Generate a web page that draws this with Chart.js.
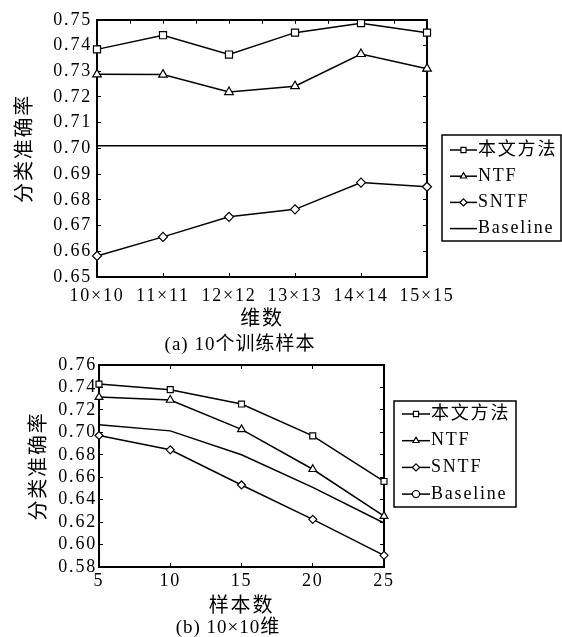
<!DOCTYPE html>
<html><head><meta charset="utf-8">
<script src="https://cdn.jsdelivr.net/npm/chart.js@4.4.0/dist/chart.umd.min.js"></script>
<style>
html,body{margin:0;padding:0;background:#fff;}
#wrap{position:relative;width:562px;height:637px;overflow:hidden;background:#fff;}
canvas{position:absolute;left:0;}
#ca{top:0;}
#cb{top:340px;}
</style></head><body>
<div id="wrap">
<canvas id="ca" width="562" height="356"></canvas>
<canvas id="cb" width="562" height="297"></canvas>
</div>
<script>
// ---------- data ----------
const seriesNames = ['本文方法', 'NTF', 'SNTF', 'Baseline'];

// (a) 10 training samples, varying dimension
const dimCategories = ['10×10', '11×11', '12×12', '13×13', '14×14', '15×15'];
const oursA = [0.7385, 0.7440, 0.7365, 0.7450, 0.7487, 0.7450];
const ntfA = [0.7288, 0.7287, 0.7219, 0.7242, 0.7367, 0.7310];
const sntfA = [0.6582, 0.6656, 0.6734, 0.6763, 0.6867, 0.6851];
const baselineA = [0.7010, 0.7010, 0.7010, 0.7010, 0.7010, 0.7010];
const yTicksA = [0.65, 0.66, 0.67, 0.68, 0.69, 0.70, 0.71, 0.72, 0.73, 0.74, 0.75];

// (b) 10x10 dimension, varying sample count
const sampleCounts = [5, 10, 15, 20, 25];
const oursB = [0.7430, 0.7380, 0.7252, 0.6968, 0.6562];
const ntfB = [0.7314, 0.7288, 0.7026, 0.6671, 0.6253];
const sntfB = [0.6972, 0.6844, 0.6531, 0.6225, 0.5904];
const baselineB = [0.7067, 0.7013, 0.6800, 0.6510, 0.6192];
const yTicksB = [0.58, 0.60, 0.62, 0.64, 0.66, 0.68, 0.70, 0.72, 0.74, 0.76];

// ---------- helpers ----------
const LATIN = "'Liberation Serif', 'Noto Sans CJK SC', serif";
const CJK = "'Noto Sans CJK SC', 'Liberation Serif', sans-serif";
const LS = '1.8px';

function drawMarker(ctx, style, x, y, r) {
  ctx.save();
  ctx.fillStyle = '#fff';
  ctx.strokeStyle = '#000';
  ctx.lineWidth = 1.2;
  ctx.beginPath();
  if (style === 'rect') {
    const s = r * Math.SQRT1_2;
    ctx.rect(x - s, y - s, 2 * s, 2 * s);
  } else if (style === 'triangle') {
    ctx.moveTo(x, y - r);
    ctx.lineTo(x + r * 0.866, y + r * 0.5);
    ctx.lineTo(x - r * 0.866, y + r * 0.5);
    ctx.closePath();
  } else if (style === 'rectRot') {
    ctx.moveTo(x - r, y); ctx.lineTo(x, y - r); ctx.lineTo(x + r, y); ctx.lineTo(x, y + r);
    ctx.closePath();
  } else if (style === 'circle') {
    ctx.arc(x, y, r, 0, Math.PI * 2);
  } else { ctx.restore(); return; }
  ctx.fill(); ctx.stroke();
  ctx.restore();
}

const spacingPlugin = {
  id: 'spacing',
  beforeUpdate(chart) { chart.ctx.letterSpacing = LS; },
  beforeLayout(chart) { chart.ctx.letterSpacing = LS; },
  beforeDraw(chart) { chart.ctx.letterSpacing = LS; }
};

const boxLegend = {
  id: 'boxLegend',
  afterDraw(chart, args, o) {
    const ctx = chart.ctx;
    ctx.save();
    ctx.letterSpacing = LS;
    ctx.strokeStyle = '#000';
    ctx.lineWidth = 1.5;
    ctx.strokeRect(o.x, o.y, o.w, o.h);
    ctx.font = o.font;
    ctx.fillStyle = '#000';
    ctx.textAlign = 'left';
    ctx.textBaseline = 'middle';
    chart.data.datasets.forEach((ds, i) => {
      const cy = o.y + o.firstRow + i * o.rowGap;
      ctx.beginPath();
      ctx.moveTo(o.x + o.lineX0, cy);
      ctx.lineTo(o.x + o.lineX1, cy);
      ctx.lineWidth = 1.5;
      ctx.stroke();
      drawMarker(ctx, ds.legendStyle, o.x + (o.lineX0 + o.lineX1) / 2, cy, o.markerR);
      ctx.fillText(ds.label, o.x + o.textX, cy);
    });
    ctx.restore();
  }
};

const captionPlugin = {
  id: 'caption',
  afterDraw(chart, args, o) {
    const ctx = chart.ctx;
    ctx.save();
    ctx.letterSpacing = '1px';
    ctx.font = o.font;
    ctx.fillStyle = '#000';
    ctx.textAlign = 'center';
    ctx.textBaseline = 'middle';
    ctx.fillText(o.text, o.x, o.y);
    ctx.restore();
  }
};

function ds(label, data, style, radius, legendStyle) {
  return {
    label, data,
    borderColor: '#000', borderWidth: 1.5,
    pointStyle: style, pointRadius: radius, pointHoverRadius: radius,
    pointBackgroundColor: '#fff', pointBorderColor: '#000', pointBorderWidth: 1.2,
    legendStyle: legendStyle || style,
    tension: 0, fill: false, clip: false
  };
}

const tickFont = { family: LATIN, size: 18 };
const titleFont = { family: CJK, size: 20, lineHeight: 1.2 };
const gridCommon = { drawOnChartArea: false, drawTicks: true, tickLength: -4, color: '#000', lineWidth: 1 };
const borderCommon = { display: true, color: '#000', width: 2 };

// ---------- chart (a) ----------
new Chart(document.getElementById('ca'), {
  type: 'line',
  data: {
    labels: dimCategories,
    datasets: [
      ds(seriesNames[0], oursA, 'rect', 5),
      ds(seriesNames[1], ntfA, 'triangle', 5),
      ds(seriesNames[2], sntfA, 'rectRot', 4.5),
      ds(seriesNames[3], baselineA, false, 0, 'none')
    ]
  },
  options: {
    responsive: false, animation: false, devicePixelRatio: 1,
    layout: { padding: { left: 0, top: 16, right: 135, bottom: 27 } },
    plugins: {
      legend: { display: false }, tooltip: { enabled: false },
      boxLegend: { x: 442, y: 135, w: 119, h: 106, firstRow: 15, rowGap: 26.2, lineX0: 8, lineX1: 35, textX: 36, markerR: 3.6, font: "18px " + LATIN },
      caption: { text: '(a) 10个训练样本', x: 240, y: 345, font: "19px " + LATIN }
    },
    scales: {
      x: {
        type: 'category', position: 'bottom', offset: false,
        grid: gridCommon, border: borderCommon,
        ticks: { font: tickFont, color: '#000', padding: 12, autoSkip: false, maxRotation: 0, minRotation: 0 },
        title: { display: true, text: '维数', font: titleFont, color: '#000', padding: 0 },
        afterFit: s => { s.height = 52; }
      },
      x2: {
        type: 'linear', position: 'top', min: 0, max: 5,
        grid: gridCommon, border: borderCommon,
        ticks: { display: false, stepSize: 0.5 },
        afterFit: s => { s.height = 0; }
      },
      y: {
        type: 'linear', position: 'left', min: 0.65, max: 0.75,
        grid: gridCommon, border: borderCommon,
        afterBuildTicks: s => { s.ticks = yTicksA.map(v => ({ value: v })); },
        ticks: { font: tickFont, color: '#000', padding: 9, autoSkip: false, callback: v => Number(v).toFixed(2) },
        title: { display: true, text: '分类准确率', font: titleFont, color: '#000', padding: { top: 11, bottom: 0 } },
        afterFit: s => { s.width = 97; }
      },
      y2: {
        type: 'linear', position: 'right', min: 0.65, max: 0.75,
        grid: gridCommon, border: borderCommon,
        afterBuildTicks: s => { s.ticks = yTicksA.map(v => ({ value: v })); },
        ticks: { display: false },
        afterFit: s => { s.width = 0; }
      }
    }
  },
  plugins: [spacingPlugin, boxLegend, captionPlugin]
});

// ---------- chart (b) ----------
const toPts = vals => sampleCounts.map((s, i) => ({ x: s, y: vals[i] }));
new Chart(document.getElementById('cb'), {
  type: 'line',
  data: {
    datasets: [
      ds(seriesNames[0], toPts(oursB), 'rect', 4.2),
      ds(seriesNames[1], toPts(ntfB), 'triangle', 4.5),
      ds(seriesNames[2], toPts(sntfB), 'rectRot', 4),
      ds(seriesNames[3], toPts(baselineB), false, 0, 'circle')
    ]
  },
  options: {
    responsive: false, animation: false, devicePixelRatio: 1,
    layout: { padding: { left: 0, top: 25, right: 178, bottom: 21 } },
    plugins: {
      legend: { display: false }, tooltip: { enabled: false },
      boxLegend: { x: 394, y: 61, w: 122, h: 106, firstRow: 13, rowGap: 26.7, lineX0: 8, lineX1: 36, textX: 37, markerR: 3.6, font: "18px " + LATIN },
      caption: { text: '(b) 10×10维', x: 228, y: 288, font: "19px " + LATIN }
    },
    scales: {
      x: {
        type: 'linear', position: 'bottom', min: 5, max: 25,
        grid: gridCommon, border: borderCommon,
        afterBuildTicks: s => { s.ticks = sampleCounts.map(v => ({ value: v })); },
        ticks: { font: tickFont, color: '#000', padding: 7.5, autoSkip: false, maxRotation: 0, minRotation: 0 },
        title: { display: true, text: '样本数', font: titleFont, color: '#000', padding: 0 },
        afterFit: s => { s.height = 49; }
      },
      x2: {
        type: 'linear', position: 'top', min: 5, max: 25,
        grid: gridCommon, border: borderCommon,
        afterBuildTicks: s => { s.ticks = sampleCounts.map(v => ({ value: v })); },
        ticks: { display: false },
        afterFit: s => { s.height = 0; }
      },
      y: {
        type: 'linear', position: 'left', min: 0.58, max: 0.76,
        grid: gridCommon, border: borderCommon,
        afterBuildTicks: s => { s.ticks = yTicksB.map(v => ({ value: v })); },
        ticks: { font: tickFont, color: '#000', padding: 6, autoSkip: false, callback: v => Number(v).toFixed(2) },
        title: { display: true, text: '分类准确率', font: titleFont, color: '#000', padding: { top: 25, bottom: 0 } },
        afterFit: s => { s.width = 99; }
      },
      y2: {
        type: 'linear', position: 'right', min: 0.58, max: 0.76,
        grid: gridCommon, border: borderCommon,
        afterBuildTicks: s => { s.ticks = yTicksB.map(v => ({ value: v })); },
        ticks: { display: false },
        afterFit: s => { s.width = 0; }
      }
    }
  },
  plugins: [spacingPlugin, boxLegend, captionPlugin]
});
</script>
</body></html>
